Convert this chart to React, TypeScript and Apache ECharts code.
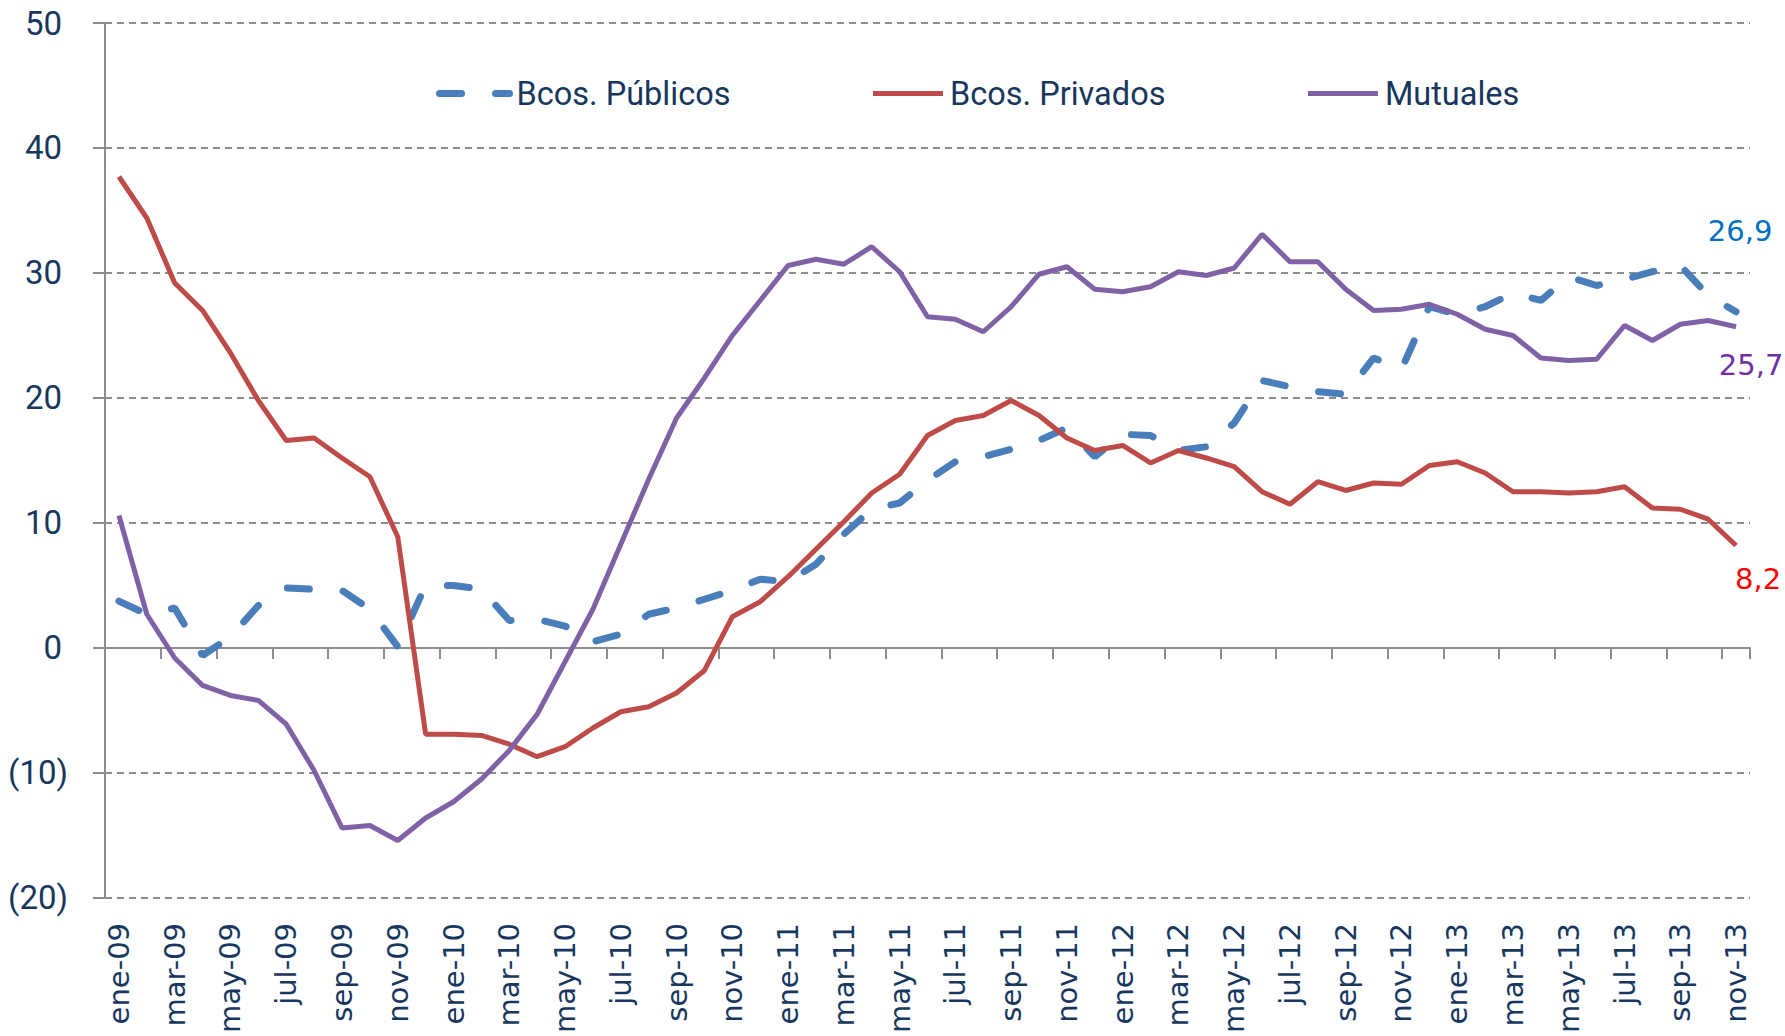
import React, { useEffect, useRef } from 'react';
import * as echarts from 'echarts';

const monthNames = ['ene', 'feb', 'mar', 'abr', 'may', 'jun', 'jul', 'ago', 'sep', 'oct', 'nov', 'dic'];
const years = ['09', '10', '11', '12', '13'];
const categories: string[] = [];
years.forEach((y) => monthNames.forEach((m) => categories.push(`${m}-${y}`)));
categories.splice(59);

const seriesNames = ['Bcos. Públicos', 'Bcos. Privados', 'Mutuales'];

const publicos = [
  3.75, 2.7, 3.2, -0.6, 0.9, 3.4, 4.8, 4.7, 4.6, 3.1, 0.1, 5.0,
  5.0, 4.7, 2.2, 2.3, 1.75, 0.5, 1.1, 2.7, 3.2, 3.9, 4.6, 5.5,
  5.3, 6.7, 9.1, 11.1, 11.6, 13.4, 14.9, 15.3, 15.9, 16.6, 17.6, 15.3,
  17.1, 17.0, 15.8, 16.1, 18.0, 21.4, 20.9, 20.5, 20.3, 23.2, 22.3, 27.3,
  26.7, 27.3, 28.4, 27.8, 29.7, 29.0, 29.5, 30.1, 30.6, 28.2, 26.9,
];

const privados = [
  37.7, 34.4, 29.2, 27.0, 23.6, 19.8, 16.6, 16.8, 15.2, 13.7, 8.9, -6.9,
  -6.9, -7.0, -7.7, -8.7, -7.9, -6.4, -5.1, -4.7, -3.6, -1.8, 2.5, 3.7,
  5.7, 7.9, 10.1, 12.4, 13.9, 17.0, 18.2, 18.6, 19.8, 18.6, 16.8, 15.8,
  16.2, 14.8, 15.8, 15.2, 14.5, 12.5, 11.5, 13.3, 12.6, 13.2, 13.1, 14.6,
  14.9, 14.0, 12.5, 12.5, 12.4, 12.5, 12.9, 11.2, 11.1, 10.3, 8.2,
];

const mutuales = [
  10.6, 2.7, -0.8, -3.0, -3.8, -4.2, -6.1, -9.8, -14.4, -14.2, -15.4, -13.6,
  -12.3, -10.5, -8.2, -5.3, -1.1, 3.1, 8.3, 13.5, 18.4, 21.6, 25.0, 27.8,
  30.6, 31.1, 30.7, 32.1, 30.1, 26.5, 26.3, 25.3, 27.3, 29.9, 30.5, 28.7,
  28.5, 28.9, 30.1, 29.8, 30.4, 33.1, 30.9, 30.9, 28.7, 27.0, 27.1, 27.5,
  26.7, 25.5, 25.0, 23.2, 23.0, 23.1, 25.8, 24.6, 25.9, 26.2, 25.7,
];

const yMin = -20;
const yMax = 50;
const yStep = 10;

const navy = '#17375E';
const gridGray = '#8C8C8C';

const fmtEnd = (p: any) => {
  const v = Array.isArray(p.value) ? p.value[p.value.length - 1] : p.value;
  return Number(v).toFixed(1).replace('.', ',');
};

export default function App() {
  const ref = useRef<HTMLDivElement>(null);

  useEffect(() => {
    document.body.style.margin = '0';
    const chart = echarts.init(ref.current!, null, { renderer: 'svg' });
    chart.setOption({
      animation: false,
      backgroundColor: '#ffffff',
      grid: { left: 105, right: 35, top: 23, bottom: 137, containLabel: false },
      legend: {
        data: seriesNames,
        left: 436,
        top: 77,
        padding: 0,
        itemWidth: 70,
        itemHeight: 14,
        itemGap: 140,
        itemStyle: { opacity: 0 },
        lineStyle: { width: 'inherit' },
        textStyle: { fontSize: 32.5, fontFamily: 'Roboto', color: navy, padding: [0, 0, 0, 2] },
      },
      xAxis: [
        {
          type: 'category',
          data: categories,
          boundaryGap: true,
          position: 'bottom',
          axisLine: { show: true, onZero: true, lineStyle: { color: gridGray, width: 2 } },
          axisTick: { show: true, interval: 1, length: 11, lineStyle: { color: gridGray, width: 2 } },
          axisLabel: { show: false },
          splitLine: { show: false },
        },
        {
          type: 'category',
          data: categories,
          boundaryGap: true,
          position: 'bottom',
          axisLine: { show: false, onZero: false },
          axisTick: { show: false },
          axisLabel: {
            show: true,
            interval: 1,
            rotate: 90,
            margin: 25,
            fontSize: 29,
            fontFamily: 'DejaVu Sans',
            color: navy,
          },
          splitLine: { show: false },
        },
      ],
      yAxis: {
        type: 'value',
        min: yMin,
        max: yMax,
        interval: yStep,
        axisLine: { show: true, lineStyle: { color: gridGray, width: 2 } },
        axisTick: { show: true, length: 12, lineStyle: { color: gridGray, width: 2 } },
        splitLine: { show: true, lineStyle: { color: gridGray, width: 2, type: [7, 5] } },
        axisLabel: {
          margin: 37,
          formatter: (v: number) => (v < 0 ? `{n|(${Math.abs(v)})}` : `{p|${v}}`),
          rich: {
            n: { fontSize: 33, fontFamily: 'Roboto', color: navy },
            p: { fontSize: 33, fontFamily: 'Roboto', color: navy, padding: [0, 6, 0, 0] },
          },
        },
      },
      series: [
        {
          name: seriesNames[0],
          type: 'line',
          data: publicos,
          symbol: 'none',
          lineStyle: { color: '#4A7EBB', width: 7, type: [22, 34], cap: 'round' },
          itemStyle: { color: '#4A7EBB' },
          endLabel: {
            show: true,
            formatter: fmtEnd,
            color: '#0070C0',
            fontSize: 29,
            fontFamily: 'DejaVu Sans',
            align: 'center',
            verticalAlign: 'middle',
            offset: [-4, -81],
          },
        },
        {
          name: seriesNames[1],
          type: 'line',
          data: privados,
          symbol: 'none',
          lineStyle: { color: '#BE4B48', width: 5 },
          itemStyle: { color: '#BE4B48' },
          endLabel: {
            show: true,
            formatter: fmtEnd,
            color: '#FF0000',
            fontSize: 29,
            fontFamily: 'DejaVu Sans',
            align: 'center',
            verticalAlign: 'middle',
            offset: [14, 34],
          },
        },
        {
          name: seriesNames[2],
          type: 'line',
          data: mutuales,
          symbol: 'none',
          lineStyle: { color: '#7F62A5', width: 5 },
          itemStyle: { color: '#7F62A5' },
          endLabel: {
            show: true,
            formatter: fmtEnd,
            color: '#7030A0',
            fontSize: 29,
            fontFamily: 'DejaVu Sans',
            align: 'center',
            verticalAlign: 'middle',
            offset: [7, 38],
          },
        },
      ],
    });
    return () => chart.dispose();
  }, []);

  return <div ref={ref} style={{ width: 1785, height: 1036 }} />;
}
